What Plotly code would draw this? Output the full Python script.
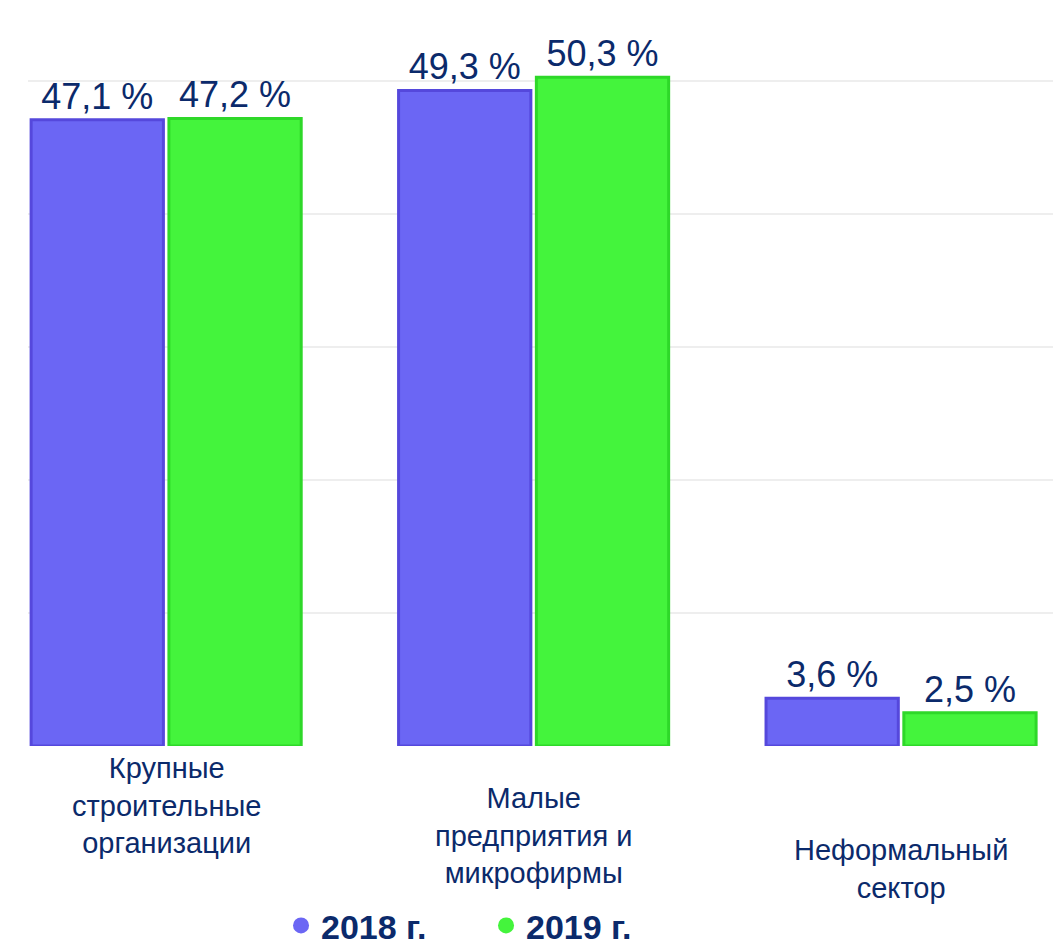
import plotly.graph_objects as go

categories = ["Крупные<br>строительные<br>организации",
              "Малые<br>предприятия и<br>микрофирмы",
              "Неформальный<br>сектор"]
series_names = ["2018 г.", "2019 г."]
values_2018 = [47.1, 49.3, 3.6]
values_2019 = [47.2, 50.3, 2.5]
labels_2018 = ["47,1 %", "49,3 %", "3,6 %"]
labels_2019 = ["47,2 %", "50,3 %", "2,5 %"]

BLUE = "#6b66f4"
BLUE_EDGE = "#5548dc"
GREEN = "#44f43c"
GREEN_EDGE = "#2ed829"
NAVY = "#0b2a6b"
FONT = "Liberation Sans, Arial, sans-serif"

fig = go.Figure()
fig.add_trace(go.Bar(
    x=categories, y=values_2018, name=series_names[0],
    marker=dict(color=BLUE, line=dict(color=BLUE_EDGE, width=3)),
    text=labels_2018, textposition="outside",
    textfont=dict(family=FONT, size=36, color=NAVY),
    cliponaxis=False, showlegend=False))
fig.add_trace(go.Bar(
    x=categories, y=values_2019, name=series_names[1],
    marker=dict(color=GREEN, line=dict(color=GREEN_EDGE, width=3)),
    text=labels_2019, textposition="outside",
    textfont=dict(family=FONT, size=36, color=NAVY),
    cliponaxis=False, showlegend=False))

# legend entries with circular markers
fig.add_trace(go.Scatter(x=[None], y=[None], mode="markers", name=series_names[0],
                         marker=dict(symbol="circle", size=26, color=BLUE)))
fig.add_trace(go.Scatter(x=[None], y=[None], mode="markers", name=series_names[1],
                         marker=dict(symbol="circle", size=26, color=GREEN)))

# category labels below each group
label_shifts = [-4, -34, -86]
for cat, ys in zip(categories, label_shifts):
    fig.add_annotation(x=cat, y=0, xref="x", yref="y", text=cat, showarrow=False,
                       yanchor="top", yshift=ys,
                       font=dict(family=FONT, size=29, color=NAVY), align="center")

fig.update_layout(
    width=1061, height=947,
    paper_bgcolor="white", plot_bgcolor="white",
    margin=dict(l=20, r=0, t=20, b=187),
    barmode="group", bargap=0.25, bargroupgap=0.04,
    xaxis=dict(range=[-0.376, 2.457], showticklabels=False, showline=False,
               showgrid=False, zeroline=False),
    yaxis=dict(range=[0, 54], showticklabels=False, showline=False, zeroline=False,
               showgrid=True, gridcolor="#eeeeee", gridwidth=2, dtick=10),
    legend=dict(orientation="h", x=0.44, xanchor="center", y=-0.21, yanchor="top",
                font=dict(family=FONT, size=34, color=NAVY, weight="bold"),
                itemsizing="trace", traceorder="normal", itemwidth=30,
                entrywidth=160, entrywidthmode="pixels"),
    font=dict(family=FONT),
)

fig.write_html("out.html")
